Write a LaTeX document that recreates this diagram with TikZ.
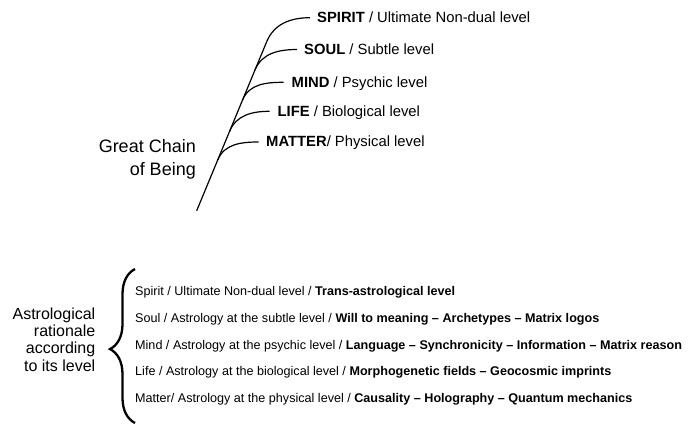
\documentclass[tikz,border=0pt]{standalone}
\usepackage{fontspec}
\setmainfont{Liberation Sans}
\usetikzlibrary{positioning,calc,decorations.pathreplacing}

\begin{document}
\begin{tikzpicture}[x=1pt,y=-1pt,
    chain/.style={line width=1.2pt},
    level/.style={anchor=west,inner sep=0pt,text height=9.5pt,text depth=0pt,
      font=\fontsize{14.8}{17}\selectfont},
    reason/.style={anchor=base west,inner sep=0pt,font=\fontsize{12.6}{15}\selectfont}]
    \useasboundingbox (0,0) rectangle (694,445);

    % the chain and its branches
    \coordinate (root) at (196.7,210.7);
    \coordinate (bend) at (266.7,41.7);
    \coordinate (spiritend) at (310,17.7);
    \coordinate (soulend) at (297,49.5);
    \coordinate (mindend) at (283.5,82.3);
    \coordinate (lifeend) at (269.5,111.3);
    \coordinate (matterend) at (258.5,142);

    \draw[chain] (root) -- (bend) to[out=67.5,in=180] (spiritend);
    \draw[chain] ($(root)!0.833!(bend)$) to[out=67.5,in=180] (soulend);
    \draw[chain] ($(root)!0.655!(bend)$) to[out=67.5,in=180] (mindend);
    \draw[chain] ($(root)!0.47!(bend)$) to[out=67.5,in=180] (lifeend);
    \draw[chain] ($(root)!0.3!(bend)$) to[out=67.5,in=180] (matterend);

    \node[level,right=7pt of spiritend] (spirit) {\textbf{SPIRIT} / Ultimate Non-dual level};
    \node[level,right=7pt of soulend] (soul) {\textbf{SOUL} / Subtle level};
    \node[level,right=8pt of mindend] (mind) {\textbf{MIND} / Psychic level};
    \node[level,right=8pt of lifeend] (life) {\textbf{LIFE} / Biological level};
    \node[level,right=7.5pt of matterend] (matter) {\textbf{MATTER}/ Physical level};

    \node[anchor=east,align=right,inner sep=0pt,
      font=\fontsize{18}{22.7}\selectfont] (gcb) at (196,159) {Great Chain\\of Being};

    % rationale per level
    \coordinate (bracebot) at (135,423);
    \coordinate (bracetop) at (135,269);
    \draw[decorate,decoration={brace,amplitude=25pt,aspect=0.48},line width=2.3pt]
    (bracebot) -- (bracetop);

    \node[anchor=east,align=right,inner sep=0pt,
      font=\fontsize{16}{17.2}\selectfont] (astro) at (95.5,339.5)
    {Astrological\\rationale\\according\\to its level};

    \node[reason] (rspirit) at (135,295.7) {Spirit / Ultimate Non-dual level / \textbf{Trans-astrological level}};
    \node[reason] (rsoul) at (135,322.3) {Soul / Astrology at the subtle level / \textbf{Will to meaning – Archetypes – Matrix logos}};
    \node[reason] (rmind) at (135,349) {Mind / Astrology at the psychic level / \textbf{Language – Synchronicity – Information – Matrix reason}};
    \node[reason] (rlife) at (135,375.7) {Life / Astrology at the biological level / \textbf{Morphogenetic fields – Geocosmic imprints}};
    \node[reason] (rmatter) at (135,402.3) {Matter/ Astrology at the physical level / \textbf{Causality – Holography – Quantum mechanics}};
  \end{tikzpicture}
\end{document}
